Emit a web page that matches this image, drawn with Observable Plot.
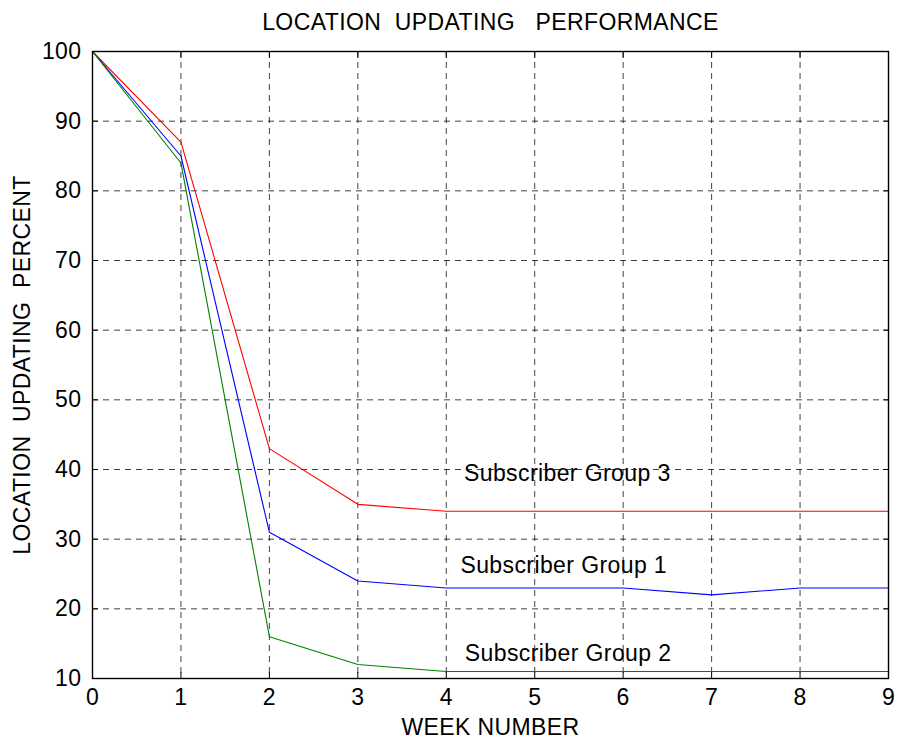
<!DOCTYPE html>
<html>
<head>
<meta charset="utf-8">
<script src="https://cdn.jsdelivr.net/npm/d3@7"></script>
<script src="https://cdn.jsdelivr.net/npm/@observablehq/plot@0.6"></script>
<style>
  html, body { margin: 0; padding: 0; background: #fff; }
  svg text { white-space: pre; letter-spacing: 0.4px; }
</style>
</head>
<body>
<div id="chart"></div>
<script>
const weeks = [0, 1, 2, 3, 4, 5, 6, 7, 8, 9];
const group3 = [100, 87, 43, 35, 34, 34, 34, 34, 34, 34];
const group1 = [100, 85, 31, 24, 23, 23, 23, 22, 23, 23];
const group2 = [100, 84, 16, 12, 11, 11, 11, 11, 11, 11];
const seriesNames = ["Subscriber Group 3", "Subscriber Group 1", "Subscriber Group 2"];
const seriesColors = ["#ff0000", "#0000ff", "#008000"];
const labelX = [4.2, 4.16, 4.21];
const labelY = [39.4, 26.2, 13.6];
const xTicks = [0, 1, 2, 3, 4, 5, 6, 7, 8, 9];
const yTicks = [10, 20, 30, 40, 50, 60, 70, 80, 90, 100];
const titleText = "LOCATION  UPDATING   PERFORMANCE";
const xLabelText = "WEEK NUMBER";
const yLabelText = "LOCATION  UPDATING  PERCENT";

const allSeries = [group3, group1, group2];
const rows = [];
allSeries.forEach((vals, i) => {
  weeks.forEach((w, j) => rows.push({week: w, value: vals[j], series: seriesNames[i]}));
});
const labels = seriesNames.map((s, i) => ({x: labelX[i], y: labelY[i], text: s}));

const font = "'Liberation Sans', Arial, sans-serif";
const fs = 23;

const chart = Plot.plot({
  width: 897,
  height: 740,
  marginLeft: 92,
  marginRight: 9,
  marginTop: 51,
  marginBottom: 62,
  style: {fontFamily: font, fontSize: fs + "px", color: "black", background: "white"},
  x: {domain: [0, 9]},
  y: {domain: [10, 100]},
  color: {domain: seriesNames, range: seriesColors},
  marks: [
    Plot.gridX(xTicks, {stroke: "black", strokeOpacity: 0.75, strokeDasharray: "6,5"}),
    Plot.gridY(yTicks, {stroke: "black", strokeOpacity: 0.75, strokeDasharray: "6,5"}),
    Plot.axisX(xTicks, {anchor: "bottom", tickSize: 0, tickPadding: 10, label: null, fontSize: fs}),
    Plot.axisY(yTicks, {anchor: "left", tickSize: 0, tickPadding: 11, label: null, fontSize: fs}),
    Plot.axisX(xTicks, {anchor: "bottom", tickSize: -6, fill: "none", label: null}),
    Plot.axisX(xTicks, {anchor: "top", tickSize: -6, fill: "none", label: null}),
    Plot.axisY(yTicks, {anchor: "left", tickSize: -6, fill: "none", label: null}),
    Plot.axisY(yTicks, {anchor: "right", tickSize: -6, fill: "none", label: null}),
    Plot.line(rows, {x: "week", y: "value", z: "series", stroke: "series", strokeWidth: 1.1}),
    Plot.text(labels, {x: "x", y: "y", text: "text", textAnchor: "start", fontSize: fs, fill: "black"}),
    Plot.frame({stroke: "black", strokeWidth: 1.4}),
    Plot.text([titleText], {text: d => d, frameAnchor: "top", dy: -29, lineAnchor: "middle", textAnchor: "middle", fontSize: fs, fill: "black"}),
    Plot.text([xLabelText], {text: d => d, frameAnchor: "bottom", dy: 49, lineAnchor: "middle", textAnchor: "middle", fontSize: fs, fill: "black"}),
    Plot.text([yLabelText], {text: d => d, frameAnchor: "left", dx: -70, rotate: -90, lineAnchor: "middle", textAnchor: "middle", fontSize: fs, fill: "black"})
  ]
});
document.getElementById("chart").appendChild(chart);
</script>
</body>
</html>
